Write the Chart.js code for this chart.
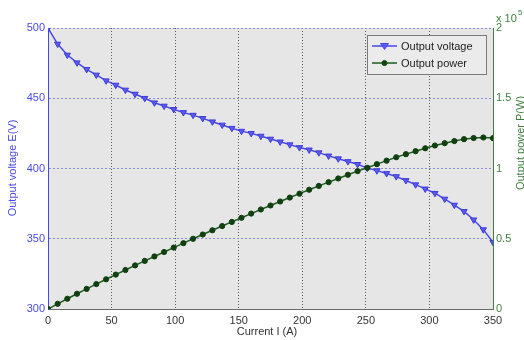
<!DOCTYPE html>
<html>
<head>
<meta charset="utf-8">
<script src="https://cdn.jsdelivr.net/npm/chart.js@4.4.1/dist/chart.umd.min.js"></script>
<style>
    html, body { margin: 0; padding: 0; background: #fff; }
    #wrap { width: 524px; height: 340px; }
</style>
</head>
<body>
<div id="wrap"><canvas id="fcChart" width="524" height="340"></canvas></div>
<script>
// current I (A)
const currents = [0, 7.6, 15.2, 22.8, 30.4, 38, 45.7, 53.3, 60.9, 68.5, 76.1, 83.7, 91.3, 98.9, 106.5, 114.1,
    121.7, 129.3, 137, 144.6, 152.2, 159.8, 167.4, 175, 182.6, 190.2, 197.8, 205.4, 213, 220.7, 228.3, 235.9,
    243.5, 251.1, 258.7, 266.3, 273.9, 281.5, 289.1, 296.7, 304.3, 312, 319.6, 327.2, 334.8, 342.4, 350]

// output voltage E (V)
const voltage = [500, 488.6, 480.8, 475.3, 470.6, 466.6, 462.5, 459.4, 455.9, 453, 450, 446.8, 444.5, 442.1, 439.9, 438,
    435.7, 433.3, 431, 428.7, 426.6, 425, 423.1, 421, 419, 417, 415, 413.3, 411.3, 409, 407, 405,
    403, 400.3, 398.5, 396.5, 394.3, 391.5, 388.5, 385.5, 382.4, 378.3, 374, 369.5, 363.5, 356.5, 347.5]

// output power P (x 10^5 W)
const power = [0, 0.0371, 0.0731, 0.1084, 0.1431, 0.1773, 0.2114, 0.2449, 0.2776, 0.3103, 0.3425, 0.3740, 0.4058, 0.4372, 0.4685, 0.4998,
    0.5303, 0.5603, 0.5905, 0.6199, 0.6493, 0.6792, 0.7083, 0.7368, 0.7651, 0.7931, 0.8209, 0.8489, 0.8761, 0.9027, 0.9292, 0.9554,
    0.9813, 1.0052, 1.0309, 1.0559, 1.0800, 1.1021, 1.1232, 1.1438, 1.1636, 1.1803, 1.1953, 1.2090, 1.2170, 1.2207, 1.2163]

const currentTicks = [0, 50, 100, 150, 200, 250, 300, 350]
const voltageTicks = [300, 350, 400, 450, 500]
const powerTicks = [0, 0.5, 1, 1.5, 2]

const BLUE = '#4848e6'
const GREEN = '#3f7f3f'
const FONT = '"Liberation Sans", Arial, sans-serif'

const ctx = document.getElementById('fcChart').getContext('2d')

const setTicks = (list) => (scale) => { scale.ticks = list.map(v => ({ value: v })) }

const decorPlugin = {
    id: 'decor',
    beforeDraw(chart) {
        const { ctx, chartArea: a } = chart
        ctx.save()
        ctx.fillStyle = '#fff'
        ctx.fillRect(0, 0, chart.width, chart.height)
        ctx.fillStyle = '#e6e6e6'
        ctx.fillRect(a.left, a.top, a.right - a.left, a.bottom - a.top)
        ctx.restore()
    },
    afterDraw(chart) {
        const { ctx } = chart
        ctx.save()

        // axis titles
        ctx.font = '11px ' + FONT
        ctx.textAlign = 'center'
        ctx.textBaseline = 'middle'
        ctx.fillStyle = BLUE
        ctx.save()
        ctx.translate(13, 168)
        ctx.rotate(-Math.PI / 2)
        ctx.fillText('Output voltage E(V)', 0, 0)
        ctx.restore()

        ctx.fillStyle = GREEN
        ctx.save()
        ctx.translate(521, 143)
        ctx.rotate(-Math.PI / 2)
        ctx.fillText('Output power P(W)', 0, 0)
        ctx.restore()

        ctx.fillStyle = '#333'
        ctx.fillText('Current I (A)', 267, 332)

        // x 10^5 exponent
        ctx.fillStyle = GREEN
        ctx.textAlign = 'left'
        ctx.textBaseline = 'alphabetic'
        ctx.fillText('x 10', 496, 22)
        ctx.font = '8px ' + FONT
        ctx.fillText('5', 518, 15)

        // legend
        ctx.fillStyle = '#ebebeb'
        ctx.fillRect(367, 35, 119, 39)
        ctx.strokeStyle = '#7a7a7a'
        ctx.lineWidth = 1
        ctx.strokeRect(367.5, 35.5, 119, 39)

        const rows = [
            { label: 'Output voltage', color: BLUE, y: 46, tri: true },
            { label: 'Output power', color: '#1d5c1d', y: 63, tri: false }
        ]
        rows.forEach(r => {
            ctx.strokeStyle = r.color
            ctx.lineWidth = 1.5
            ctx.beginPath()
            ctx.moveTo(372, r.y)
            ctx.lineTo(397, r.y)
            ctx.stroke()
            ctx.beginPath()
            if (r.tri) {
                ctx.fillStyle = '#5a5af2'
                ctx.moveTo(380.5, r.y - 2.5)
                ctx.lineTo(388.5, r.y - 2.5)
                ctx.lineTo(384.5, r.y + 3.5)
                ctx.closePath()
            } else {
                ctx.fillStyle = '#103f10'
                ctx.arc(384.5, r.y, 2.6, 0, Math.PI * 2)
            }
            ctx.fill()
            ctx.lineWidth = 1
            ctx.stroke()
            ctx.fillStyle = '#222'
            ctx.font = '11px ' + FONT
            ctx.textBaseline = 'middle'
            ctx.fillText(r.label, 401, r.y + 0.5)
        })
        ctx.restore()
    }
}

const fcChart = new Chart(ctx, {
    type: 'line',
    data: {
        datasets: [
            {
                label: 'Output power',
                data: currents.map((c, i) => ({ x: c, y: power[i] })),
                yAxisID: 'y1',
                borderColor: '#1d5c1d',
                borderWidth: 1.5,
                pointBackgroundColor: '#103f10',
                pointBorderColor: '#103f10',
                pointRadius: 2.6,
                pointBorderWidth: 1,
                tension: 0
            },
            {
                label: 'Output voltage',
                data: currents.map((c, i) => ({ x: c, y: voltage[i] })),
                yAxisID: 'y',
                borderColor: BLUE,
                borderWidth: 1.5,
                pointStyle: 'triangle',
                rotation: 180,
                pointBackgroundColor: '#5a5af2',
                pointBorderColor: '#3c3cd8',
                pointRadius: 3.6,
                pointBorderWidth: 1,
                tension: 0
            }
        ]
    },
    options: {
        responsive: false,
        animation: false,
        devicePixelRatio: 1,
        layout: { padding: { top: 28, left: 0, right: 0, bottom: 0 } },
        plugins: {
            legend: { display: false },
            tooltip: { enabled: false }
        },
        scales: {
            x: {
                type: 'linear',
                min: 0,
                max: 350,
                afterBuildTicks: setTicks(currentTicks),
                afterFit: (s) => { s.height = 31 },
                grid: {
                    drawTicks: false,
                    color: (c) => (c.tick && c.tick.value === 0) ? 'rgba(0,0,0,0)' : '#5a5a5a',
                    lineWidth: 1
                },
                border: { display: true, color: '#6a6a6a', width: 1, dash: [1, 2] },
                ticks: { color: '#333', padding: 5, font: { family: FONT, size: 11 } }
            },
            y: {
                type: 'linear',
                position: 'left',
                min: 300,
                max: 500,
                afterBuildTicks: setTicks(voltageTicks),
                afterFit: (s) => { s.width = 48 },
                grid: {
                    drawTicks: false,
                    color: (c) => (c.tick && c.tick.value === 300) ? 'rgba(0,0,0,0)' : '#8a8ae0',
                    lineWidth: 1
                },
                border: { display: true, color: BLUE, width: 1, dash: [2, 2] },
                ticks: { color: BLUE, padding: 3, font: { family: FONT, size: 11 } }
            },
            y1: {
                type: 'linear',
                position: 'right',
                min: 0,
                max: 2,
                afterBuildTicks: setTicks(powerTicks),
                afterFit: (s) => { s.width = 31 },
                grid: { display: false, drawOnChartArea: false, drawTicks: false },
                border: { display: true, color: GREEN, width: 1 },
                ticks: {
                    color: GREEN,
                    padding: 3,
                    font: { family: FONT, size: 11 },
                    callback: (v) => String(v)
                }
            }
        }
    },
    plugins: [decorPlugin]
})
</script>
</body>
</html>
